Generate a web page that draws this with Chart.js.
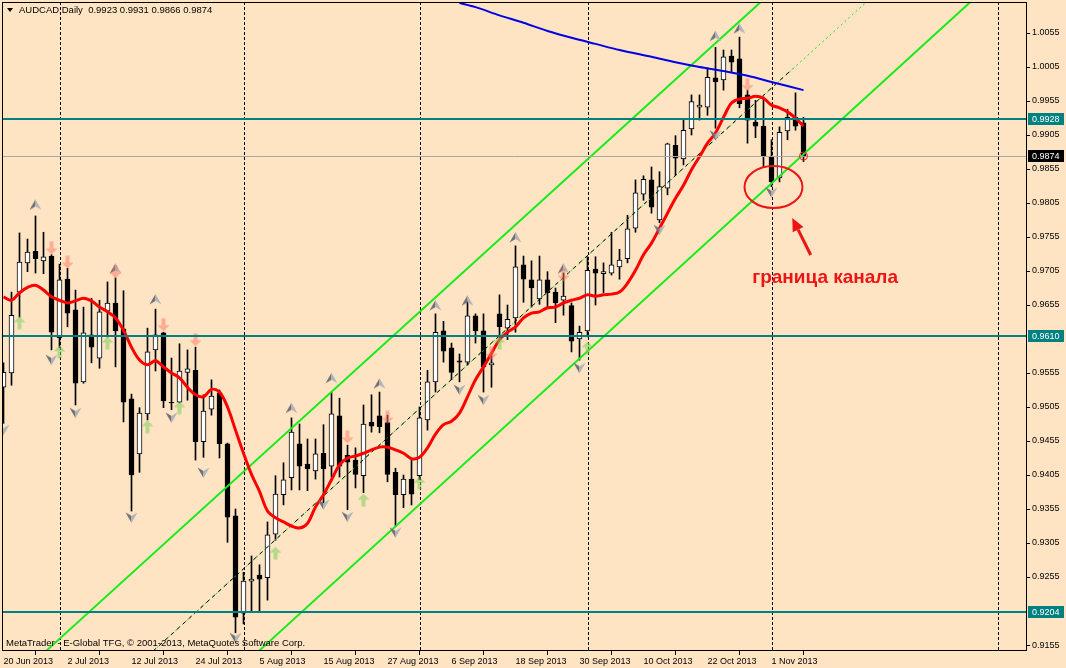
<!DOCTYPE html>
<html>
<head>
<meta charset="utf-8">
<title>AUDCAD, Daily</title>
<script src="https://cdn.jsdelivr.net/npm/chart.js@4.4.0/dist/chart.umd.min.js"></script>
<style>
  html, body { margin: 0; padding: 0; background: #FFE4C4; }
  #wrap { width: 1066px; height: 668px; }
</style>
</head>
<body>
<div id="wrap"><canvas id="chart" width="1066" height="668"></canvas></div>
<script>
// Daily bars, index 0 = 20 Jun 2013 ... index 100 = 7 Nov 2013
const opens = [
  0.9534,0.9555,0.9674,0.9717,0.9734,0.9720,0.9727,0.9607,0.9693,0.9648,
  0.9542,0.9611,0.9577,0.9646,0.9658,0.9620,0.9517,0.9436,0.9495,0.9589,
  0.9614,0.9512,0.9512,0.9556,0.9559,0.9454,0.9502,0.9526,0.9451,0.9345,
  0.9202,0.9249,0.9258,0.9254,0.9318,0.9376,0.9401,0.9451,0.9421,0.9411,
  0.9437,0.9418,0.9492,0.9434,0.9427,0.9404,0.9483,0.9492,0.9482,0.9409,
  0.9376,0.9399,0.9404,0.9486,0.9542,0.9617,0.9592,0.9573,0.9571,0.9639,
  0.9617,0.9567,0.9642,0.9621,0.9636,0.9714,0.9692,0.9664,0.9692,0.9674,
  0.9662,0.9654,0.9605,0.9617,0.9708,0.9701,0.9702,0.9711,0.9723,0.9768,
  0.9818,0.9839,0.9780,0.9827,0.9890,0.9870,0.9914,0.9946,0.9946,0.9989,
  0.9986,1.0021,1.0017,0.9964,0.9924,0.9918,0.9874,0.9842,0.9911,0.9931,
  0.9923
];
const highs = [
  0.9570,0.9674,0.9761,0.9752,0.9786,0.9762,0.9729,0.9715,0.9709,0.9677,
  0.9652,0.9665,0.9662,0.9689,0.9695,0.9676,0.9524,0.9504,0.9621,0.9649,
  0.9615,0.9577,0.9598,0.9589,0.9593,0.9523,0.9545,0.9530,0.9452,0.9355,
  0.9262,0.9286,0.9273,0.9336,0.9404,0.9423,0.9489,0.9480,0.9458,0.9458,
  0.9479,0.9527,0.9518,0.9449,0.9445,0.9508,0.9523,0.9527,0.9493,0.9415,
  0.9405,0.9429,0.9505,0.9559,0.9642,0.9631,0.9599,0.9583,0.9661,0.9642,
  0.9642,0.9584,0.9670,0.9655,0.9742,0.9727,0.9720,0.9727,0.9704,0.9680,
  0.9702,0.9658,0.9624,0.9726,0.9726,0.9717,0.9762,0.9737,0.9787,0.9839,
  0.9845,0.9858,0.9851,0.9893,0.9904,0.9927,0.9964,0.9964,1.0004,1.0034,
  1.0030,1.0030,1.0049,0.9971,0.9956,0.9961,0.9898,0.9917,0.9943,0.9967,
  0.9931
];
const lows = [
  0.9481,0.9537,0.9637,0.9704,0.9702,0.9701,0.9589,0.9592,0.9623,0.9508,
  0.9540,0.9570,0.9562,0.9608,0.9564,0.9483,0.9352,0.9409,0.9486,0.9558,
  0.9504,0.9501,0.9511,0.9515,0.9427,0.9431,0.9493,0.9430,0.9306,0.9173,
  0.9186,0.9204,0.9204,0.9221,0.9309,0.9361,0.9383,0.9383,0.9382,0.9399,
  0.9364,0.9402,0.9402,0.9354,0.9386,0.9379,0.9468,0.9467,0.9395,0.9329,
  0.9357,0.9361,0.9398,0.9471,0.9527,0.9571,0.9545,0.9542,0.9567,0.9599,
  0.9527,0.9534,0.9607,0.9604,0.9615,0.9659,0.9652,0.9656,0.9651,0.9629,
  0.9640,0.9586,0.9574,0.9608,0.9655,0.9673,0.9699,0.9693,0.9717,0.9762,
  0.9809,0.9790,0.9776,0.9817,0.9846,0.9861,0.9905,0.9927,0.9934,0.9915,
  0.9971,0.9998,0.9945,0.9893,0.9901,0.9858,0.9829,0.9836,0.9898,0.9912,
  0.9866
];
const closes = [
  0.9556,0.9640,0.9718,0.9733,0.9723,0.9726,0.9615,0.9692,0.9643,0.9540,
  0.9614,0.9593,0.9645,0.9658,0.9617,0.9512,0.9405,0.9496,0.9586,0.9611,
  0.9514,0.9511,0.9558,0.9561,0.9454,0.9499,0.9521,0.9451,0.9343,0.9196,
  0.9249,0.9252,0.9252,0.9317,0.9377,0.9398,0.9468,0.9418,0.9414,0.9436,
  0.9414,0.9495,0.9418,0.9424,0.9406,0.9480,0.9477,0.9476,0.9406,0.9376,
  0.9399,0.9377,0.9489,0.9542,0.9615,0.9587,0.9556,0.9571,0.9639,0.9617,
  0.9564,0.9570,0.9623,0.9634,0.9711,0.9693,0.9680,0.9692,0.9673,0.9658,
  0.9668,0.9602,0.9615,0.9706,0.9702,0.9704,0.9714,0.9721,0.9767,0.9820,
  0.9840,0.9799,0.9829,0.9892,0.9871,0.9912,0.9954,0.9949,0.9990,0.9983,
  1.0020,1.0012,0.9951,0.9927,0.9918,0.9873,0.9836,0.9909,0.9931,0.9918,
  0.9874
];

// red moving average, one value per bar
const redMa = [
  0.9667,0.9662,0.9673,0.9681,0.9684,0.9677,0.9667,0.9662,0.9658,0.9661,
  0.9665,0.9661,0.9652,0.9645,0.9636,0.9618,0.9593,0.9574,0.9567,0.9573,
  0.9564,0.9555,0.9548,0.9534,0.9523,0.9520,0.9531,0.9527,0.9505,0.9471,
  0.9437,0.9406,0.9381,0.9352,0.9342,0.9336,0.9330,0.9327,0.9334,0.9358,
  0.9376,0.9398,0.9420,0.9430,0.9433,0.9437,0.9442,0.9446,0.9446,0.9442,
  0.9437,0.9429,0.9431,0.9445,0.9465,0.9479,0.9484,0.9496,0.9520,0.9545,
  0.9564,0.9584,0.9604,0.9615,0.9623,0.9636,0.9643,0.9645,0.9651,0.9652,
  0.9658,0.9662,0.9665,0.9670,0.9668,0.9670,0.9671,0.9674,0.9687,0.9706,
  0.9729,0.9746,0.9768,0.9790,0.9812,0.9831,0.9854,0.9873,0.9893,0.9908,
  0.9931,0.9952,0.9958,0.9959,0.9962,0.9959,0.9949,0.9945,0.9939,0.9930,
  0.9918
];

// blue long moving average (only visible from bar 57)
const blueIdx = [57, 59, 62, 65, 68, 71, 74, 77, 81, 84, 87, 90, 93, 96, 100];
const blueMa = [1.0099,1.0093,1.0081,1.0070,1.0058,1.0048,1.0039,1.0030,1.0020,1.0012,1.0005,0.9999,0.9992,0.9983,0.9971];

// equidistant channel, [bar index, price] at the two ends
const channelUpper = [[5.3, 0.9146], [94.7, 1.0101]];
const channelMiddle = [[18.7, 0.9146], [107.9, 1.0101]];
const channelLower = [[31.9, 0.9146], [120.9, 1.0101]];
const trendDashed = [[18.7, 0.9146], [98.6, 1.0002]];

// horizontal levels
const tealLevels = [0.9928, 0.9610, 0.9204];
const bidLevel = 0.9874;

// markers [bar index, price]
const fractalUp = [[4,0.9803],[14,0.9709],[19,0.9664],[36,0.9504],[41,0.9548],[47,0.9540],
  [54,0.9655],[58,0.9662],[64,0.9755],[70,0.9709],[89,1.0051],[92,1.0062]];
const fractalDown = [[0,0.9471],[6,0.9574],[9,0.9496],[16,0.9342],[21,0.9489],[25,0.9408],
  [29,0.9165],[40,0.9361],[43,0.9343],[49,0.9320],[57,0.9530],[60,0.9515],[72,0.9562],
  [82,0.9765],[89,0.9904],[96,0.9820]];
const sellArrows = [[6,0.9739],[8,0.9718],[14,0.9704],[20,0.9626],[24,0.9604],[43,0.9461],
  [48,0.9490],[61,0.9584],[70,0.9699],[93,0.9979]];
const buyArrows = [[2,0.9629],[7,0.9586],[13,0.9599],[18,0.9476],[22,0.9504],[34,0.9290],
  [45,0.9368],[52,0.9393],[62,0.9599],[73,0.9592]];

// axes
const dateTickIdx = [0, 8, 16, 24, 32, 40, 48, 56, 64, 72, 80, 88, 96];
const dateLabels = ['20 Jun 2013','2 Jul 2013','12 Jul 2013','24 Jul 2013','5 Aug 2013','15 Aug 2013',
  '27 Aug 2013','6 Sep 2013','18 Sep 2013','30 Sep 2013','10 Oct 2013','22 Oct 2013','1 Nov 2013'];
const monthGridIdx = [7, 30, 52, 73, 96, 124.25];
const priceTicks = [1.0055,1.0005,0.9955,0.9905,0.9855,0.9805,0.9755,0.9705,0.9655,
  0.9555,0.9505,0.9455,0.9405,0.9355,0.9305,0.9255,0.9155];

// annotation: circle round the touch of the channel line, arrow and caption
const noteEllipse = { idx: 96.25, price: 0.98285 };
const noteArrowFrom = [100.9, 0.97285];
const noteArrowTo = [98.6, 0.9783];
const noteText = { idx: 102.7, price: 0.96947, text: 'граница канала' };

const fontFam = '"Liberation Sans", Arial, sans-serif';
const bg = '#FFE4C4';

function pts(pairs) { return pairs.map(p => ({ x: p[0], y: p[1] })); }

// small pictures for the markers
function makeMarker(kind) {
  const c = document.createElement('canvas');
  c.width = 13; c.height = 14;
  const g = c.getContext('2d');
  if (kind === 'fracDown' || kind === 'sell') { g.translate(0, 14); g.scale(1, -1); }
  if (kind === 'fracUp' || kind === 'fracDown') {
    g.fillStyle = '#6E7178';
    g.beginPath(); g.moveTo(6.5, 2); g.lineTo(0.5, 12.5); g.lineTo(6.5, 9); g.closePath(); g.fill();
    g.fillStyle = '#B2B4BA';
    g.beginPath(); g.moveTo(6.5, 2); g.lineTo(12.5, 12.5); g.lineTo(6.5, 9); g.closePath(); g.fill();
  } else {
    g.fillStyle = kind === 'buy' ? 'rgba(120,205,90,0.55)' : 'rgba(255,115,95,0.5)';
    g.beginPath();
    g.moveTo(6.5, 0.5); g.lineTo(12.5, 6.5); g.lineTo(8.5, 6.5); g.lineTo(8.5, 13.5);
    g.lineTo(4.5, 13.5); g.lineTo(4.5, 6.5); g.lineTo(0.5, 6.5); g.closePath(); g.fill();
  }
  return c;
}

const mtDecor = {
  id: 'mtDecor',
  beforeDraw(chart) {
    const { ctx, chartArea: a, scales: { x } } = chart;
    ctx.save();
    ctx.fillStyle = bg;
    ctx.fillRect(0, 0, chart.width, chart.height);
    // monthly separators
    ctx.strokeStyle = '#000';
    ctx.lineWidth = 1;
    ctx.setLineDash([3, 2]);
    monthGridIdx.forEach(v => {
      const px = Math.round(x.getPixelForValue(v)) + 0.5;
      ctx.beginPath(); ctx.moveTo(px, a.top); ctx.lineTo(px, a.bottom); ctx.stroke();
    });
    ctx.restore();
  },
  afterDatasetsDraw(chart) {
    const { ctx, chartArea: a, scales: { x, y } } = chart;
    ctx.save();
    ctx.beginPath(); ctx.rect(a.left, a.top, a.right - a.left, a.bottom - a.top); ctx.clip();
    // bid line
    ctx.strokeStyle = '#A8A8A8';
    ctx.lineWidth = 1;
    let py = Math.round(y.getPixelForValue(bidLevel)) + 0.5;
    ctx.beginPath(); ctx.moveTo(a.left, py); ctx.lineTo(a.right, py); ctx.stroke();
    // horizontal levels
    ctx.strokeStyle = '#008080';
    ctx.lineWidth = 2;
    tealLevels.forEach(v => {
      const ly = Math.round(y.getPixelForValue(v));
      ctx.beginPath(); ctx.moveTo(a.left, ly); ctx.lineTo(a.right, ly); ctx.stroke();
    });
    // small circle on the last close
    ctx.strokeStyle = '#FF2020';
    ctx.lineWidth = 1;
    ctx.beginPath();
    ctx.arc(x.getPixelForValue(100), y.getPixelForValue(closes[100]), 4, 0, Math.PI * 2);
    ctx.stroke();
    // ellipse
    ctx.strokeStyle = '#EE1414';
    ctx.lineWidth = 2;
    ctx.beginPath();
    ctx.ellipse(x.getPixelForValue(noteEllipse.idx), y.getPixelForValue(noteEllipse.price), 29, 21, 0, 0, Math.PI * 2);
    ctx.stroke();
    // arrow
    const x0 = x.getPixelForValue(noteArrowFrom[0]), y0 = y.getPixelForValue(noteArrowFrom[1]);
    const x1 = x.getPixelForValue(noteArrowTo[0]), y1 = y.getPixelForValue(noteArrowTo[1]);
    const ang = Math.atan2(y1 - y0, x1 - x0);
    const hl = 13, hw = 6;
    const bx = x1 - hl * Math.cos(ang), by = y1 - hl * Math.sin(ang);
    ctx.fillStyle = '#EE1414';
    ctx.lineWidth = 3;
    ctx.beginPath(); ctx.moveTo(x0, y0); ctx.lineTo(bx, by); ctx.stroke();
    ctx.beginPath();
    ctx.moveTo(x1, y1);
    ctx.lineTo(bx + hw * Math.sin(ang), by - hw * Math.cos(ang));
    ctx.lineTo(bx - hw * Math.sin(ang), by + hw * Math.cos(ang));
    ctx.closePath(); ctx.fill();
    // caption
    ctx.font = 'bold 19px ' + fontFam;
    ctx.textAlign = 'center';
    ctx.textBaseline = 'middle';
    ctx.fillText(noteText.text, x.getPixelForValue(noteText.idx), y.getPixelForValue(noteText.price));
    ctx.restore();
  },
  afterDraw(chart) {
    const { ctx, chartArea: a, scales: { y } } = chart;
    ctx.save();
    // frame
    ctx.strokeStyle = '#000';
    ctx.lineWidth = 1;
    ctx.strokeRect(a.left + 0.5, a.top + 0.5, a.right - a.left - 1, a.bottom - a.top - 1);
    // price boxes on the right scale
    ctx.font = '9px ' + fontFam;
    ctx.textBaseline = 'middle';
    ctx.textAlign = 'left';
    const boxes = tealLevels.map(v => [v, '#008080']).concat([[bidLevel, '#000000']]);
    boxes.forEach(([v, col]) => {
      const by = Math.round(y.getPixelForValue(v));
      ctx.fillStyle = col;
      ctx.fillRect(a.right + 1, by - 6, 36, 12);
      ctx.fillStyle = '#FFFFFF';
      ctx.fillText(v.toFixed(4), a.right + 5, by + 0.5);
    });
    // title
    ctx.fillStyle = '#000';
    ctx.beginPath(); ctx.moveTo(7, 8); ctx.lineTo(13, 8); ctx.lineTo(10, 12); ctx.closePath(); ctx.fill();
    ctx.font = '9.5px ' + fontFam;
    ctx.fillText('AUDCAD,Daily  ' + [opens[100], highs[100], lows[100], closes[100]].map(v => v.toFixed(4)).join(' '), 19, 10);
    // copyright
    ctx.font = '9.5px ' + fontFam;
    ctx.fillText('MetaTrader - E-Global TFG, © 2001-2013, MetaQuotes Software Corp.', 6, 643);
    ctx.restore();
  }
};

const idx = opens.map((_, i) => i);
const bodyColors = idx.map(i => closes[i] >= opens[i] ? '#FFFFFF' : '#000000');

new Chart(document.getElementById('chart'), {
  type: 'bar',
  data: {
    datasets: [
      {
        label: 'wicks',
        data: idx.map(i => ({ x: i, y: [lows[i], highs[i]] })),
        backgroundColor: '#000000',
        borderWidth: 0,
        grouped: false,
        barPercentage: 1,
        categoryPercentage: 1,
        maxBarThickness: 1,
        order: 20
      },
      {
        label: 'bodies',
        data: idx.map(i => ({ x: i, y: [opens[i], closes[i]] })),
        backgroundColor: bodyColors,
        borderColor: '#000000',
        borderWidth: 1,
        borderSkipped: false,
        grouped: false,
        barPercentage: 1,
        categoryPercentage: 1,
        maxBarThickness: 5,
        order: 19
      },
      {
        type: 'line', label: 'channel middle', data: pts(channelMiddle),
        borderColor: '#20E020', borderWidth: 1, borderDash: [2, 3], pointRadius: 0, order: 15
      },
      {
        type: 'line', label: 'trend', data: pts(trendDashed),
        borderColor: '#000000', borderWidth: 1, borderDash: [4, 4], pointRadius: 0, order: 14
      },
      {
        type: 'line', label: 'channel upper', data: pts(channelUpper),
        borderColor: '#18EC18', borderWidth: 2, pointRadius: 0, order: 13
      },
      {
        type: 'line', label: 'channel lower', data: pts(channelLower),
        borderColor: '#18EC18', borderWidth: 2, pointRadius: 0, order: 12
      },
      {
        type: 'line', label: 'MA long', data: blueIdx.map((v, k) => ({ x: v, y: blueMa[k] })),
        borderColor: '#0000E6', borderWidth: 2, pointRadius: 0, tension: 0.3, order: 11
      },
      {
        type: 'line', label: 'MA', data: redMa.map((v, i) => ({ x: i, y: v })),
        borderColor: '#FF0000', borderWidth: 3, pointRadius: 0, tension: 0.35, order: 10
      },
      {
        type: 'line', label: 'fractal up', data: pts(fractalUp), showLine: false,
        pointStyle: makeMarker('fracUp'), order: 5
      },
      {
        type: 'line', label: 'fractal down', data: pts(fractalDown), showLine: false,
        pointStyle: makeMarker('fracDown'), order: 5
      },
      {
        type: 'line', label: 'sell', data: pts(sellArrows), showLine: false,
        pointStyle: makeMarker('sell'), order: 4
      },
      {
        type: 'line', label: 'buy', data: pts(buyArrows), showLine: false,
        pointStyle: makeMarker('buy'), order: 4
      }
    ]
  },
  options: {
    responsive: false,
    animation: false,
    devicePixelRatio: 1,
    events: [],
    layout: { autoPadding: false, padding: { left: 2, top: 2, right: 0, bottom: 0 } },
    plugins: {
      legend: { display: false },
      tooltip: { enabled: false }
    },
    scales: {
      x: {
        type: 'linear',
        position: 'bottom',
        min: -0.1875,
        max: 127.9375,
        offset: false,
        afterFit: s => { s.height = 17; s.paddingLeft = 0; s.paddingRight = 0; },
        afterBuildTicks: s => { s.ticks = dateTickIdx.map(v => ({ value: v })); },
        ticks: {
          callback: (v, i) => dateLabels[i],
          autoSkip: false,
          maxRotation: 0,
          align: 'start',
          padding: 1,
          color: '#000',
          font: { family: fontFam, size: 9 }
        },
        grid: { drawOnChartArea: false, drawTicks: true, tickLength: 4, color: '#000' },
        border: { display: false }
      },
      y: {
        type: 'linear',
        position: 'right',
        min: 0.91462,
        max: 1.01006,
        afterFit: s => { s.width = 39; s.paddingTop = 0; s.paddingBottom = 0; },
        afterBuildTicks: s => { s.ticks = priceTicks.map(v => ({ value: v })); },
        ticks: {
          callback: v => v.toFixed(4),
          padding: 2,
          color: '#000',
          font: { family: fontFam, size: 9 }
        },
        grid: { drawOnChartArea: false, drawTicks: true, tickLength: 3, color: '#000' },
        border: { display: false }
      }
    }
  },
  plugins: [mtDecor]
});
</script>
</body>
</html>
